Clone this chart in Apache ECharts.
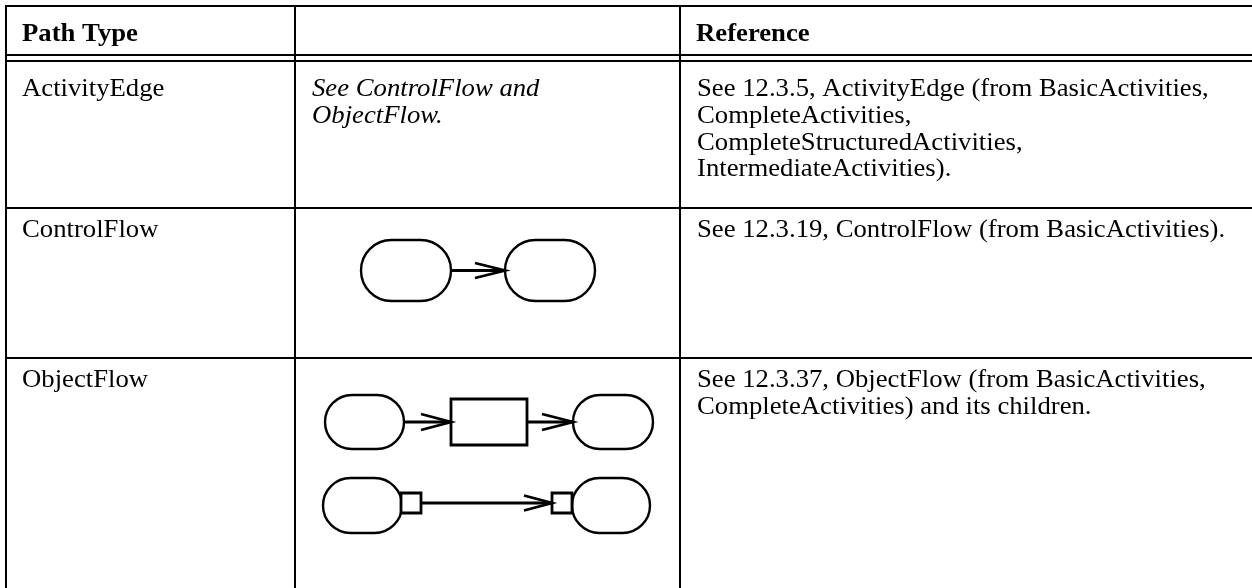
<!DOCTYPE html>
<html><head><meta charset="utf-8">
<script src="https://cdn.jsdelivr.net/npm/echarts@6/dist/echarts.min.js"></script>
<style>html,body{margin:0;padding:0;background:#fff}#c{width:1252px;height:588px}</style>
</head><body><div id="c"></div>
<script>
// ---- content ----
const headers = ['Path Type', '', 'Reference'];
const pathTypes = ['ActivityEdge', 'ControlFlow', 'ObjectFlow'];
const notations = [['See ControlFlow and', 'ObjectFlow.'], [], []];
const references = [
  ['See 12.3.5, ActivityEdge (from BasicActivities,', 'CompleteActivities,', 'CompleteStructuredActivities,', 'IntermediateActivities).'],
  ['See 12.3.19, ControlFlow (from BasicActivities).'],
  ['See 12.3.37, ObjectFlow (from BasicActivities,', 'CompleteActivities) and its children.']
];
const diagramKinds = [null, 'control', 'object'];

// ---- layout ----
const W = 1252, H = 588;
const colX = [6, 295, 680];
const topY = 6, hdrY1 = 55, hdrY2 = 61;
const rowLines = [208, 358];
const textPad = 16;
const headerTextY = 35;
const rowTextY = [90, 231, 381];
const lineH = 26.6;
const FONT = '"Liberation Serif","Times New Roman",serif';
const FS = 24.5;
const STRETCH = 1.09;
const LW = 2;

const g = [];
function hline(y){ g.push({type:'line', shape:{x1:colX[0]-1, y1:y, x2:W, y2:y}, style:{stroke:'#000', lineWidth:LW}, z:5}); }
function vline(x){ g.push({type:'line', shape:{x1:x, y1:topY-1, x2:x, y2:H}, style:{stroke:'#000', lineWidth:LW}, z:5}); }
function text(str, x, y, bold, italic){
  g.push({type:'text', x:x, y:y, scaleX:STRETCH, style:{text:str, fill:'#000', font:(italic?'italic ':'')+(bold?'bold ':'')+FS+'px '+FONT, textVerticalAlign:'middle', textAlign:'left'}, z:10});
}
[topY, hdrY1, hdrY2].concat(rowLines).forEach(hline);
colX.forEach(vline);

headers.forEach((h,i)=>{ if(h) text(h, colX[i]+textPad, headerTextY, true, false); });
pathTypes.forEach((p,r)=>text(p, colX[0]+textPad, rowTextY[r], false, false));
notations.forEach((lines,r)=>lines.forEach((l,k)=>text(l, colX[1]+textPad+1, rowTextY[r]+k*lineH, false, true)));
references.forEach((lines,r)=>lines.forEach((l,k)=>text(l, colX[2]+textPad+1, rowTextY[r]+k*lineH, false, false)));

// ---- diagram primitives ----
const SW = 2.4;
function stadium(ox, oy, x, y, w, h){
  g.push({type:'rect', shape:{x:ox+x, y:oy+y, width:w, height:h, r:h/2}, style:{fill:'#fff', stroke:'#000', lineWidth:SW}, z:6});
}
function box(ox, oy, x, y, w, h){
  g.push({type:'rect', shape:{x:ox+x, y:oy+y, width:w, height:h}, style:{fill:'#fff', stroke:'#000', lineWidth:SW+0.4}, z:7});
}
function arrow(ox, oy, x1, x2, y, len, hw){
  g.push({type:'line', shape:{x1:ox+x1, y1:oy+y, x2:ox+x2, y2:oy+y}, style:{stroke:'#000', lineWidth:3}, z:8});
  g.push({type:'polyline', shape:{points:[[ox+x2-len, oy+y-hw],[ox+x2, oy+y],[ox+x2-len, oy+y+hw]]}, style:{stroke:'#000', lineWidth:2.8, fill:null}, z:8});
}
const diagramOrigin = {control:[361, 240], object:[323, 395]};
function drawControl(){
  const [ox, oy] = diagramOrigin.control;
  stadium(ox, oy, 0, 0, 90, 61);
  stadium(ox, oy, 144, 0, 90, 61);
  arrow(ox, oy, 90, 144, 30.5, 30, 7.5);
}
function drawObject(){
  const [ox, oy] = diagramOrigin.object;
  stadium(ox, oy, 2, 0, 79, 54);
  arrow(ox, oy, 81, 128, 27, 30, 8);
  box(ox, oy, 128, 4, 76, 46);
  arrow(ox, oy, 204, 250, 27, 31, 8);
  stadium(ox, oy, 250, 0, 80, 54);
  const dy = 83;
  stadium(ox, oy, 0, dy, 79, 55);
  box(ox, oy, 78, dy+15, 20, 20);
  arrow(ox, oy, 98, 229, dy+25, 28, 7.5);
  stadium(ox, oy, 249, dy, 78, 55);
  box(ox, oy, 229, dy+15, 20, 20);
}
diagramKinds.forEach(k=>{ if(k==='control') drawControl(); if(k==='object') drawObject(); });

const chart = echarts.init(document.getElementById('c'), null, {renderer:'canvas'});
chart.setOption({backgroundColor:'#fff', animation:false, graphic:{elements:g}});
</script></body></html>
